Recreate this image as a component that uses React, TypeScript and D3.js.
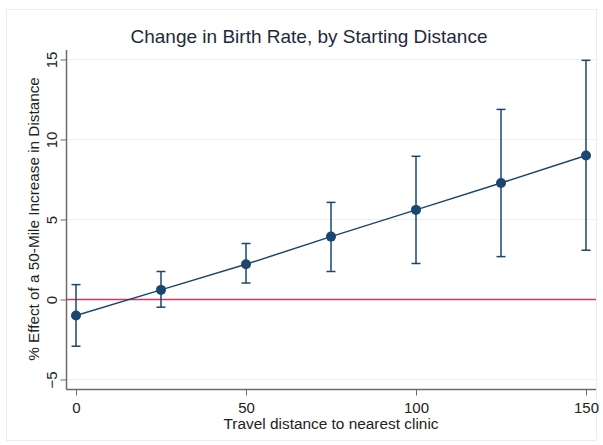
import React, {useRef, useEffect} from 'react'
import * as d3 from 'd3'

const distances = [0, 25, 50, 75, 100, 125, 150]
const effects = [-1.0, 0.6, 2.2, 3.93, 5.6, 7.28, 9.0]
const lowerCI = [-2.92, -0.48, 1.03, 1.75, 2.25, 2.68, 3.08]
const upperCI = [0.93, 1.75, 3.5, 6.07, 8.95, 11.88, 14.95]
const yTicks = [-5, 0, 5, 10, 15]
const xTicks = [0, 50, 100, 150]

const navy = '#1a476f'
const font = '"Liberation Sans", Arial, sans-serif'

function App() {
  const ref: any = useRef<SVGSVGElement>(null)

  useEffect(() => {
    const svg = d3.select(ref.current)
    svg.selectAll('*').remove()

    const x = d3.scaleLinear().domain([0, 150]).range([76, 586])
    const y = d3.scaleLinear().domain([-5, 15]).range([379.5, 59.5])

    // outer frame
    svg
      .append('rect')
      .attr('x', 6.5)
      .attr('y', 9.5)
      .attr('width', 590)
      .attr('height', 431)
      .attr('fill', '#fff')
      .attr('stroke', '#e8eef2')

    svg
      .append('text')
      .attr('x', 309)
      .attr('y', 43)
      .attr('text-anchor', 'middle')
      .style('font-family', font)
      .style('font-size', '19px')
      .attr('fill', '#1e2a3a')
      .text('Change in Birth Rate, by Starting Distance')

    // gridlines
    svg
      .append('g')
      .selectAll('line')
      .data(yTicks)
      .enter()
      .append('line')
      .attr('x1', 67)
      .attr('x2', 596)
      .attr('y1', (d: number) => y(d))
      .attr('y2', (d: number) => y(d))
      .attr('stroke', '#eaf1f3')
      .attr('stroke-width', 1.2)

    // y axis
    const yAxis: any = svg
      .append('g')
      .attr('transform', 'translate(66.5,0)')
      .call(d3.axisLeft(y).tickValues(yTicks).tickSize(6).tickSizeOuter(0))
    yAxis.select('.domain').attr('d', 'M0,50V389').attr('stroke', '#6b6b6b').attr('stroke-width', 1.5)
    yAxis.selectAll('.tick line').attr('stroke', '#6b6b6b')
    yAxis
      .selectAll('.tick text')
      .attr('x', 0)
      .attr('y', 0)
      .attr('dy', 0)
      .attr('transform', 'translate(-10,0) rotate(-90)')
      .attr('text-anchor', 'middle')
      .style('font-family', font)
      .style('font-size', '15px')
      .attr('fill', '#222')

    // x axis
    const xAxis: any = svg
      .append('g')
      .attr('transform', 'translate(0,389.5)')
      .call(d3.axisBottom(x).tickValues(xTicks).tickSize(6).tickSizeOuter(0))
    xAxis.select('.domain').attr('d', 'M66,0H596').attr('stroke', '#6b6b6b').attr('stroke-width', 1.5)
    xAxis.selectAll('.tick line').attr('stroke', '#6b6b6b')
    xAxis
      .selectAll('.tick text')
      .attr('y', 13)
      .style('font-family', font)
      .style('font-size', '15px')
      .attr('fill', '#222')

    // axis titles
    svg
      .append('text')
      .attr('transform', 'translate(39,219) rotate(-90)')
      .attr('text-anchor', 'middle')
      .style('font-family', font)
      .style('font-size', '15.3px')
      .attr('fill', '#222')
      .text('% Effect of a 50-Mile Increase in Distance')

    svg
      .append('text')
      .attr('x', 331)
      .attr('y', 429)
      .attr('text-anchor', 'middle')
      .style('font-family', font)
      .style('font-size', '15.4px')
      .attr('fill', '#222')
      .text('Travel distance to nearest clinic')

    // zero line
    svg
      .append('line')
      .attr('x1', 67)
      .attr('x2', 596)
      .attr('y1', y(0))
      .attr('y2', y(0))
      .attr('stroke', '#cb3b5f')
      .attr('stroke-width', 1.5)

    const pts = distances.map((d, i) => ({d, v: effects[i], lo: lowerCI[i], hi: upperCI[i]}))

    // error bars
    const eb = svg.append('g').attr('stroke', navy).attr('stroke-width', 1.5)
    pts.forEach(p => {
      eb.append('line').attr('x1', x(p.d)).attr('x2', x(p.d)).attr('y1', y(p.lo)).attr('y2', y(p.hi))
      eb.append('line').attr('x1', x(p.d) - 4.5).attr('x2', x(p.d) + 4.5).attr('y1', y(p.lo)).attr('y2', y(p.lo))
      eb.append('line').attr('x1', x(p.d) - 4.5).attr('x2', x(p.d) + 4.5).attr('y1', y(p.hi)).attr('y2', y(p.hi))
    })

    const line = d3
      .line<any>()
      .x(p => x(p.d))
      .y(p => y(p.v))
    svg
      .append('path')
      .datum(pts)
      .attr('d', line)
      .attr('fill', 'none')
      .attr('stroke', navy)
      .attr('stroke-width', 1.5)

    svg
      .append('g')
      .selectAll('circle')
      .data(pts)
      .enter()
      .append('circle')
      .attr('cx', (p: any) => x(p.d))
      .attr('cy', (p: any) => y(p.v))
      .attr('r', 5)
      .attr('fill', navy)
  }, [])

  return (
    <svg
      ref={ref}
      width={603}
      height={445}
      style={{position: 'absolute', left: 0, top: 0, background: '#fff'}}
    />
  )
}

export default App
